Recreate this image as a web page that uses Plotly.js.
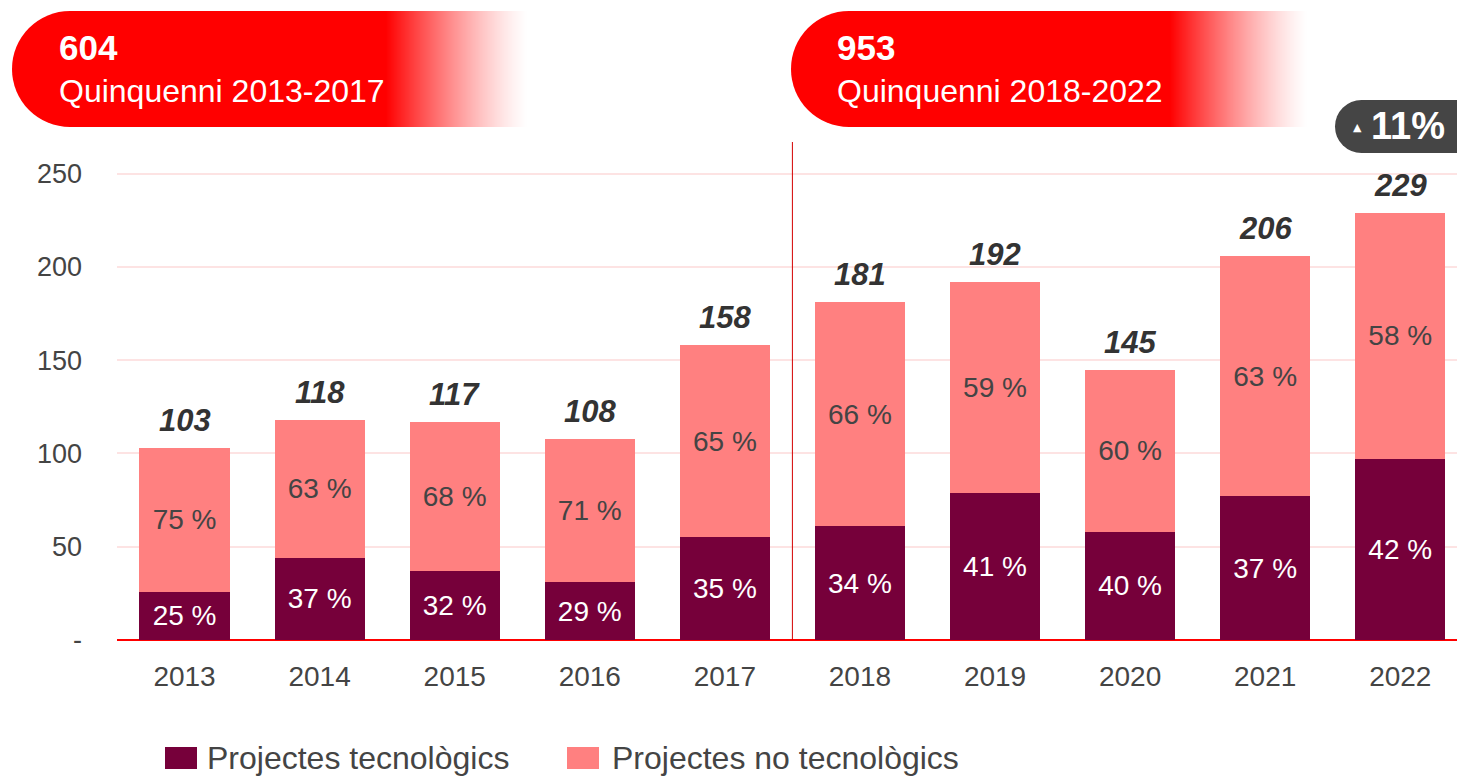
<!DOCTYPE html>
<html><head><meta charset="utf-8">
<script src="https://cdn.plot.ly/plotly-3.0.1.min.js"></script>
<style>html,body{margin:0;padding:0;background:#fff}#c{width:1457px;height:779px}</style>
</head><body><div id="c"></div>
<script>
// ---- data ----
const years = ['2013','2014','2015','2016','2017','2018','2019','2020','2021','2022'];
const tech = [26,44,37,31,55,61,79,58,77,97];
const nonTech = [77,74,80,77,103,120,113,87,129,132];
const totals = [103,118,117,108,158,181,192,145,206,229];
const techPct = ['25 %','37 %','32 %','29 %','35 %','34 %','41 %','40 %','37 %','42 %'];
const nonTechPct = ['75 %','63 %','68 %','71 %','65 %','66 %','59 %','60 %','63 %','58 %'];
const seriesNames = ['Projectes tecnològics','Projectes no tecnològics'];
const periodTotals = ['604','953'];
const periodLabels = ['Quinquenni 2013-2017','Quinquenni 2018-2022'];
const growthLabel = '11%';
const yTickVals = [0,50,100,150,200,250];
const yTickText = ['-','50','100','150','200','250'];

// ---- styling ----
const DARK = '#76003A', LIGHT = '#FF8080', RED = '#FF0000', GREY = '#444444';
const FONT = 'Liberation Sans, Arial, sans-serif';
const W = 1457, H = 779, ML = 117, MR = 0, MT = 142, MB = 139;
const PW = W - ML - MR, PH = H - MT - MB;
const px = x => (x - ML) / PW;
const py = y => (H - MB - y) / PH;

const shapes = [];
const annotations = [];

// banners (pill with fading right end), gradient drawn as 1px integer-aligned stripes
function banner(x0, solidEnd, fadeEnd, y0, y1) {
  const h = y1 - y0;
  shapes.push({type:'circle', xref:'paper', yref:'paper', x0:px(x0), x1:px(x0+h), y0:py(y1), y1:py(y0), fillcolor:RED, line:{width:0}, layer:'above'});
  shapes.push({type:'rect', xref:'paper', yref:'paper', x0:px(x0+h/2), x1:px(solidEnd), y0:py(y1), y1:py(y0), fillcolor:RED, line:{width:0}, layer:'above'});
  const n = fadeEnd - solidEnd;
  for (let i = 0; i < n; i++) {
    const t = (i + 0.5) / n;
    const a = Math.pow(1 - t, 1.3);
    shapes.push({type:'rect', xref:'paper', yref:'paper', x0:px(solidEnd + i), x1:px(solidEnd + i + 1), y0:py(y1), y1:py(y0), fillcolor:'rgba(255,0,0,'+a.toFixed(3)+')', line:{width:0}, layer:'above'});
  }
}
banner(12, 386, 528, 11, 127);
banner(791, 1170, 1308, 11, 127);

const bannerX = [57, 835];
for (let i = 0; i < 2; i++) {
  annotations.push({xref:'paper', yref:'paper', x:px(bannerX[i]), y:py(47), xanchor:'left', yanchor:'middle', showarrow:false,
    text:'<b>'+periodTotals[i]+'</b>', font:{family:FONT, size:35, color:'#fff'}});
  annotations.push({xref:'paper', yref:'paper', x:px(bannerX[i]), y:py(91), xanchor:'left', yanchor:'middle', showarrow:false,
    text:periodLabels[i], font:{family:FONT, size:32, color:'#fff'}});
}

// growth badge
shapes.push({type:'circle', xref:'paper', yref:'paper', x0:px(1335), x1:px(1388), y0:py(153), y1:py(100), fillcolor:'#454545', line:{width:0}, layer:'above'});
shapes.push({type:'rect', xref:'paper', yref:'paper', x0:px(1361), x1:px(1462), y0:py(153), y1:py(100), fillcolor:'#454545', line:{width:0}, layer:'above'});
annotations.push({xref:'paper', yref:'paper', x:px(1357), y:py(127), xanchor:'center', yanchor:'middle', showarrow:false,
  text:'▲', font:{family:'DejaVu Sans', size:11, color:'#fff'}});
annotations.push({xref:'paper', yref:'paper', x:px(1369), y:py(126), xanchor:'left', yanchor:'middle', showarrow:false,
  text:'<b>'+growthLabel+'</b>', font:{family:FONT, size:38, color:'#fff'}});

// divider between periods
shapes.push({type:'line', xref:'x', yref:'paper', x0:4.5, x1:4.5, y0:0, y1:1, line:{color:'#D40000', width:1}, layer:'above'});

// totals above bars (category axis: annotations use category index)
years.forEach((yr, i) => {
  annotations.push({x:i, y:totals[i], xref:'x', yref:'y', yanchor:'bottom', yshift:8, showarrow:false,
    text:'<b><i>'+totals[i]+'</i></b>', font:{family:FONT, size:31, color:'#333'}});
});

// manual legend
const legX = [165, 567], legTextX = [205, 610], legColors = [DARK, LIGHT];
for (let i = 0; i < 2; i++) {
  shapes.push({type:'rect', xref:'paper', yref:'paper', x0:px(legX[i]), x1:px(legX[i]+32), y0:py(769), y1:py(747), fillcolor:legColors[i], line:{width:0}});
  annotations.push({xref:'paper', yref:'paper', x:px(legTextX[i]), y:py(758), xanchor:'left', yanchor:'middle', showarrow:false,
    text:seriesNames[i], font:{family:FONT, size:32, color:GREY}});
}

const traces = [
  {type:'bar', name:seriesNames[0], x:years, y:tech, marker:{color:DARK, line:{width:0}},
   text:techPct, textposition:'inside', insidetextanchor:'middle', textangle:0, constraintext:'none',
   insidetextfont:{family:FONT, size:28, color:'#fff'}, hoverinfo:'skip'},
  {type:'bar', name:seriesNames[1], x:years, y:nonTech, marker:{color:LIGHT, line:{width:0}},
   text:nonTechPct, textposition:'inside', insidetextanchor:'middle', textangle:0, constraintext:'none',
   insidetextfont:{family:FONT, size:28, color:GREY}, hoverinfo:'skip'}
];

const layout = {
  width:W, height:H, margin:{l:ML, r:MR, t:MT, b:MB, pad:0},
  paper_bgcolor:'#fff', plot_bgcolor:'#fff',
  barmode:'stack', bargap:0.333, showlegend:false,
  font:{family:FONT, color:GREY},
  xaxis:{type:'category', range:[-0.5, 9.42], showgrid:false, zeroline:false, showline:false, ticks:'',
    tickfont:{family:FONT, size:28, color:GREY}, ticklabelstandoff:17, fixedrange:true},
  yaxis:{range:[0, 267], tickvals:yTickVals, ticktext:yTickText, showgrid:true, gridcolor:'#FDE3E3', gridwidth:2,
    zeroline:true, zerolinecolor:RED, zerolinewidth:2, showline:false, ticks:'',
    tickfont:{family:FONT, size:27, color:GREY}, ticklabelstandoff:34, fixedrange:true},
  shapes:shapes, annotations:annotations
};

Plotly.newPlot('c', traces, layout, {displayModeBar:false, staticPlot:true});
</script></body></html>
